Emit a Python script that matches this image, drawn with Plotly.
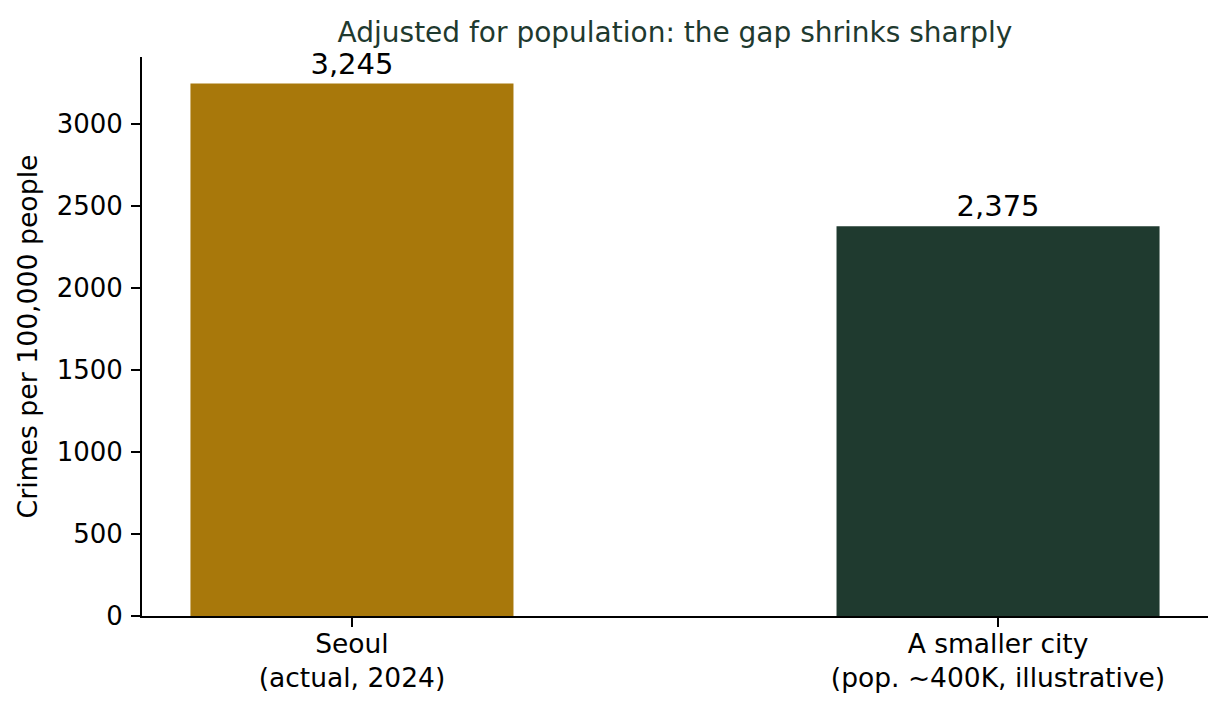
import plotly.graph_objects as go

# Data
cities = ['Seoul<br>(actual, 2024)', 'A smaller city<br>(pop. ~400K, illustrative)']
rates = [3245, 2375]
bar_colors = ['#A8780B', '#1F3A2F']
positions = [0, 1]

W, H = 1212, 697

fig = go.Figure()
fig.add_trace(go.Bar(
    x=positions,
    y=rates,
    width=0.5,
    marker=dict(color=bar_colors, line=dict(width=0)),
    text=[f'{v:,}' for v in rates],
    textposition='outside',
    textfont=dict(size=29, color='black'),
    cliponaxis=False,
    showlegend=False,
))

fig.update_layout(
    width=W, height=H,
    margin=dict(l=134, r=12, t=49, b=86),
    paper_bgcolor='white',
    plot_bgcolor='white',
    font=dict(family='DejaVu Sans', size=26, color='black'),
    title=dict(text='Adjusted for population: the gap shrinks sharply',
               x=0.5, xanchor='center', xref='paper',
               y=1 - 24 / H, yanchor='middle',
               font=dict(size=28, color='#1F3A2F')),
    xaxis=dict(
        range=[-0.325, 1.325],
        tickvals=positions, ticktext=cities,
        showline=True, linecolor='black', linewidth=2,
        ticks='outside', ticklen=9, tickwidth=2, tickcolor='black',
        showgrid=False, zeroline=False,
        tickfont=dict(size=26.5),
        ticklabelstandoff=-6,
    ),
    yaxis=dict(
        range=[0, 3407.25],
        dtick=500,
        showline=True, linecolor='black', linewidth=2,
        ticks='outside', ticklen=9, tickwidth=2, tickcolor='black',
        showgrid=False, zeroline=False,
        tickfont=dict(size=26),
        ticklabelstandoff=3,
        title=dict(text='Crimes per 100,000 people', font=dict(size=26.7), standoff=11),
    ),
)

fig.write_html('out.html')
